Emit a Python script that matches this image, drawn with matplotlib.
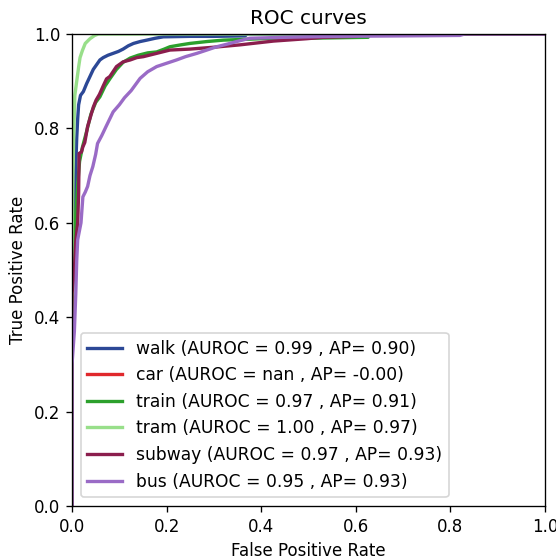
import numpy as np
import matplotlib
matplotlib.use("Agg")
import matplotlib.pyplot as plt

labels = ["walk", "car", "train", "tram", "subway", "bus"]
auroc = ["0.99", "nan", "0.97", "1.00", "0.97", "0.95"]
ap = ["0.90", "-0.00", "0.91", "0.97", "0.93", "0.93"]
colors = ["#2c4896", "#e0282c", "#2ca02c", "#98df8a", "#8b1e4d", "#9a6bc6"]

walk_fpr = [0, 0, 0.004, 0.008, 0.010, 0.012, 0.014, 0.018, 0.024, 0.031, 0.038, 0.045, 0.052,
            0.059, 0.066, 0.076, 0.087, 0.098, 0.108, 0.119, 0.130, 0.144, 0.158, 0.176, 0.193,
            0.25, 0.30, 0.366, 0.37, 1.0]
walk_tpr = [0, 0.45, 0.60, 0.72, 0.78, 0.82, 0.85, 0.87, 0.878, 0.895, 0.910, 0.925, 0.935,
            0.945, 0.950, 0.955, 0.959, 0.963, 0.968, 0.975, 0.980, 0.984, 0.987, 0.991, 0.994,
            0.995, 0.995, 0.996, 1.0, 1.0]

car_fpr = [0, 1]
car_tpr = [np.nan, np.nan]

train_fpr = [0, 0, 0.004, 0.008, 0.012, 0.016, 0.022, 0.030, 0.040, 0.050, 0.059, 0.070, 0.080,
             0.094, 0.108, 0.123, 0.140, 0.160, 0.179, 0.195, 0.207, 0.230, 0.249, 0.285, 0.320,
             0.40, 0.50, 0.626, 0.63, 1.0]
train_tpr = [0, 0.40, 0.55, 0.62, 0.68, 0.73, 0.76, 0.79, 0.83, 0.855, 0.867, 0.89, 0.905,
             0.925, 0.940, 0.949, 0.955, 0.960, 0.962, 0.968, 0.973, 0.977, 0.980, 0.984, 0.987,
             0.990, 0.991, 0.993, 1.0, 1.0]

tram_fpr = [0, 0, 0.002, 0.004, 0.006, 0.010, 0.014, 0.017, 0.022, 0.028, 0.038, 0.048, 0.056, 1.0]
tram_tpr = [0, 0.55, 0.70, 0.80, 0.87, 0.90, 0.93, 0.95, 0.965, 0.98, 0.99, 0.997, 1.0, 1.0]

subway_fpr = [0, 0, 0.005, 0.008, 0.012, 0.014, 0.015, 0.020, 0.023, 0.027, 0.033, 0.038, 0.045,
              0.051, 0.058, 0.066, 0.073, 0.080, 0.094, 0.108, 0.123, 0.137, 0.151, 0.179, 0.207,
              0.249, 0.300, 0.355, 0.426, 0.496, 0.531, 0.60, 0.61, 1.0]
subway_tpr = [0, 0.45, 0.50, 0.56, 0.60, 0.663, 0.747, 0.750, 0.761, 0.770, 0.804, 0.821, 0.845,
              0.860, 0.872, 0.890, 0.905, 0.910, 0.931, 0.941, 0.945, 0.950, 0.952, 0.959, 0.966,
              0.968, 0.972, 0.977, 0.985, 0.990, 0.993, 0.995, 1.0, 1.0]

bus_fpr = [0, 0, 0.005, 0.008, 0.010, 0.012, 0.019, 0.023, 0.028, 0.033, 0.038, 0.044, 0.050,
           0.054, 0.063, 0.072, 0.087, 0.100, 0.111, 0.125, 0.144, 0.160, 0.179, 0.200, 0.221,
           0.240, 0.264, 0.285, 0.306, 0.330, 0.348, 0.376, 0.45, 0.55, 0.70, 0.82, 0.83, 1.0]
bus_tpr = [0, 0.30, 0.37, 0.45, 0.52, 0.564, 0.600, 0.655, 0.665, 0.677, 0.700, 0.719, 0.745,
           0.768, 0.785, 0.804, 0.835, 0.850, 0.865, 0.880, 0.906, 0.920, 0.931, 0.938, 0.945,
           0.952, 0.959, 0.966, 0.973, 0.979, 0.984, 0.991, 0.993, 0.995, 0.996, 0.997, 1.0, 1.0]

fprs = [walk_fpr, car_fpr, train_fpr, tram_fpr, subway_fpr, bus_fpr]
tprs = [walk_tpr, car_tpr, train_tpr, tram_tpr, subway_tpr, bus_tpr]

fig = plt.figure(figsize=(556 / 120, 560 / 120), dpi=120)
ax = fig.add_axes([72 / 556, 1 - 506 / 560, 473 / 556, 472 / 560])

for i in range(len(labels)):
    ax.plot(fprs[i], tprs[i], color=colors[i], lw=2,
            label=f"{labels[i]} (AUROC = {auroc[i]} , AP= {ap[i]})")

ax.set_xlim(0, 1)
ax.set_ylim(0, 1)
ax.set_xlabel("False Positive Rate")
ax.set_ylabel("True Positive Rate")
ax.set_title("ROC curves")
ax.legend(loc="lower left", fontsize=10.3)

fig.savefig("out.png", dpi=120)
